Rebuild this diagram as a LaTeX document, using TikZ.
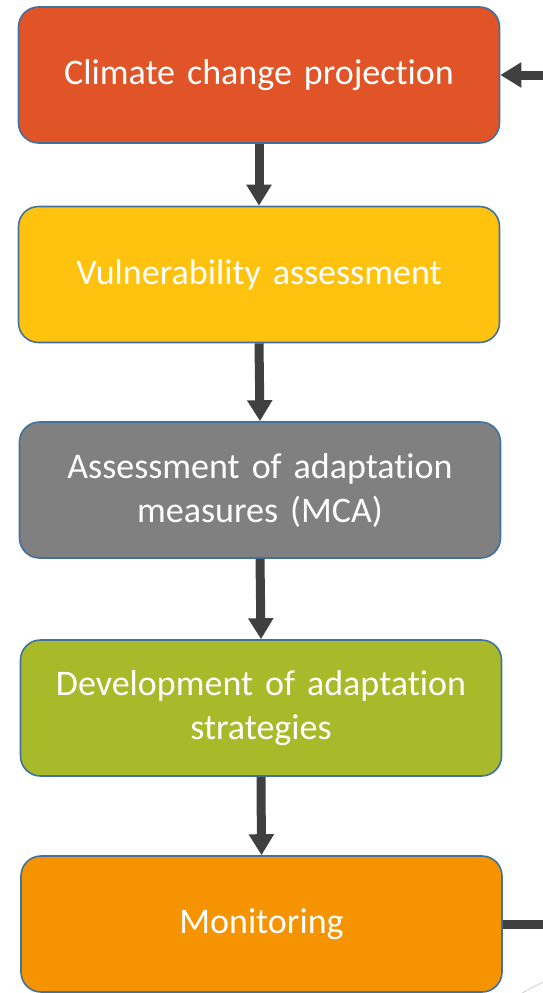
\documentclass[tikz,border=0pt]{standalone}
\usepackage{fontspec}
\setmainfont[Ligatures=NoCommon]{Carlito}
\usetikzlibrary{arrows.meta}
\definecolor{projred}{HTML}{E15427}
\definecolor{vulnyellow}{HTML}{FFC20E}
\definecolor{mcagray}{HTML}{808080}
\definecolor{stratgreen}{HTML}{A8B92A}
\definecolor{monorange}{HTML}{F59300}
\definecolor{boxedge}{HTML}{41719C}
\definecolor{arrowgray}{HTML}{404040}
\begin{document}
\begin{tikzpicture}[x=1pt,y=-1pt,
		stepbox/.style={draw=boxedge,line width=1.6pt,rounded corners=20pt,minimum width=481pt,minimum height=136pt,text width=470pt,align=center,text=white,font=\fontsize{36}{44}\selectfont},
		flow/.style={-{Triangle[length=21pt,width=24pt]},line width=9pt,arrowgray}]
				\useasboundingbox (0,0) rectangle (543,993);
				% the five steps
				\node[stepbox,fill=projred] (proj) at (259,75) {Climate change projection};
				\node[stepbox,fill=vulnyellow] (vuln) at (259,274.5) {Vulnerability assessment};
				\node[stepbox,fill=mcagray] (mca) at (260,490) {Assessment of adaptation\\measures (MCA)};
				\node[stepbox,fill=stratgreen] (strat) at (261,708) {Development of adaptation\\strategies};
				\node[stepbox,fill=monorange] (mon) at (261.5,924) {Monitoring};
				% arrows between the steps
				\draw[flow] (proj.south) -- (vuln.north);
				\draw[flow] (vuln.south) -- (mca.north);
				\draw[flow] (mca.south) -- (strat.north);
				\draw[flow] (strat.south) -- (mon.north);
				% loop back
				\coordinate (back) at (543,75);
				\coordinate (out) at (543,924);
				\draw[flow] (back) -- (proj.east);
				\draw[line width=9pt,arrowgray] (mon.east) -- (out);
				\draw[black!18,line width=0.8pt] (522,993) -- (543,982);
		\end{tikzpicture}
\end{document}
